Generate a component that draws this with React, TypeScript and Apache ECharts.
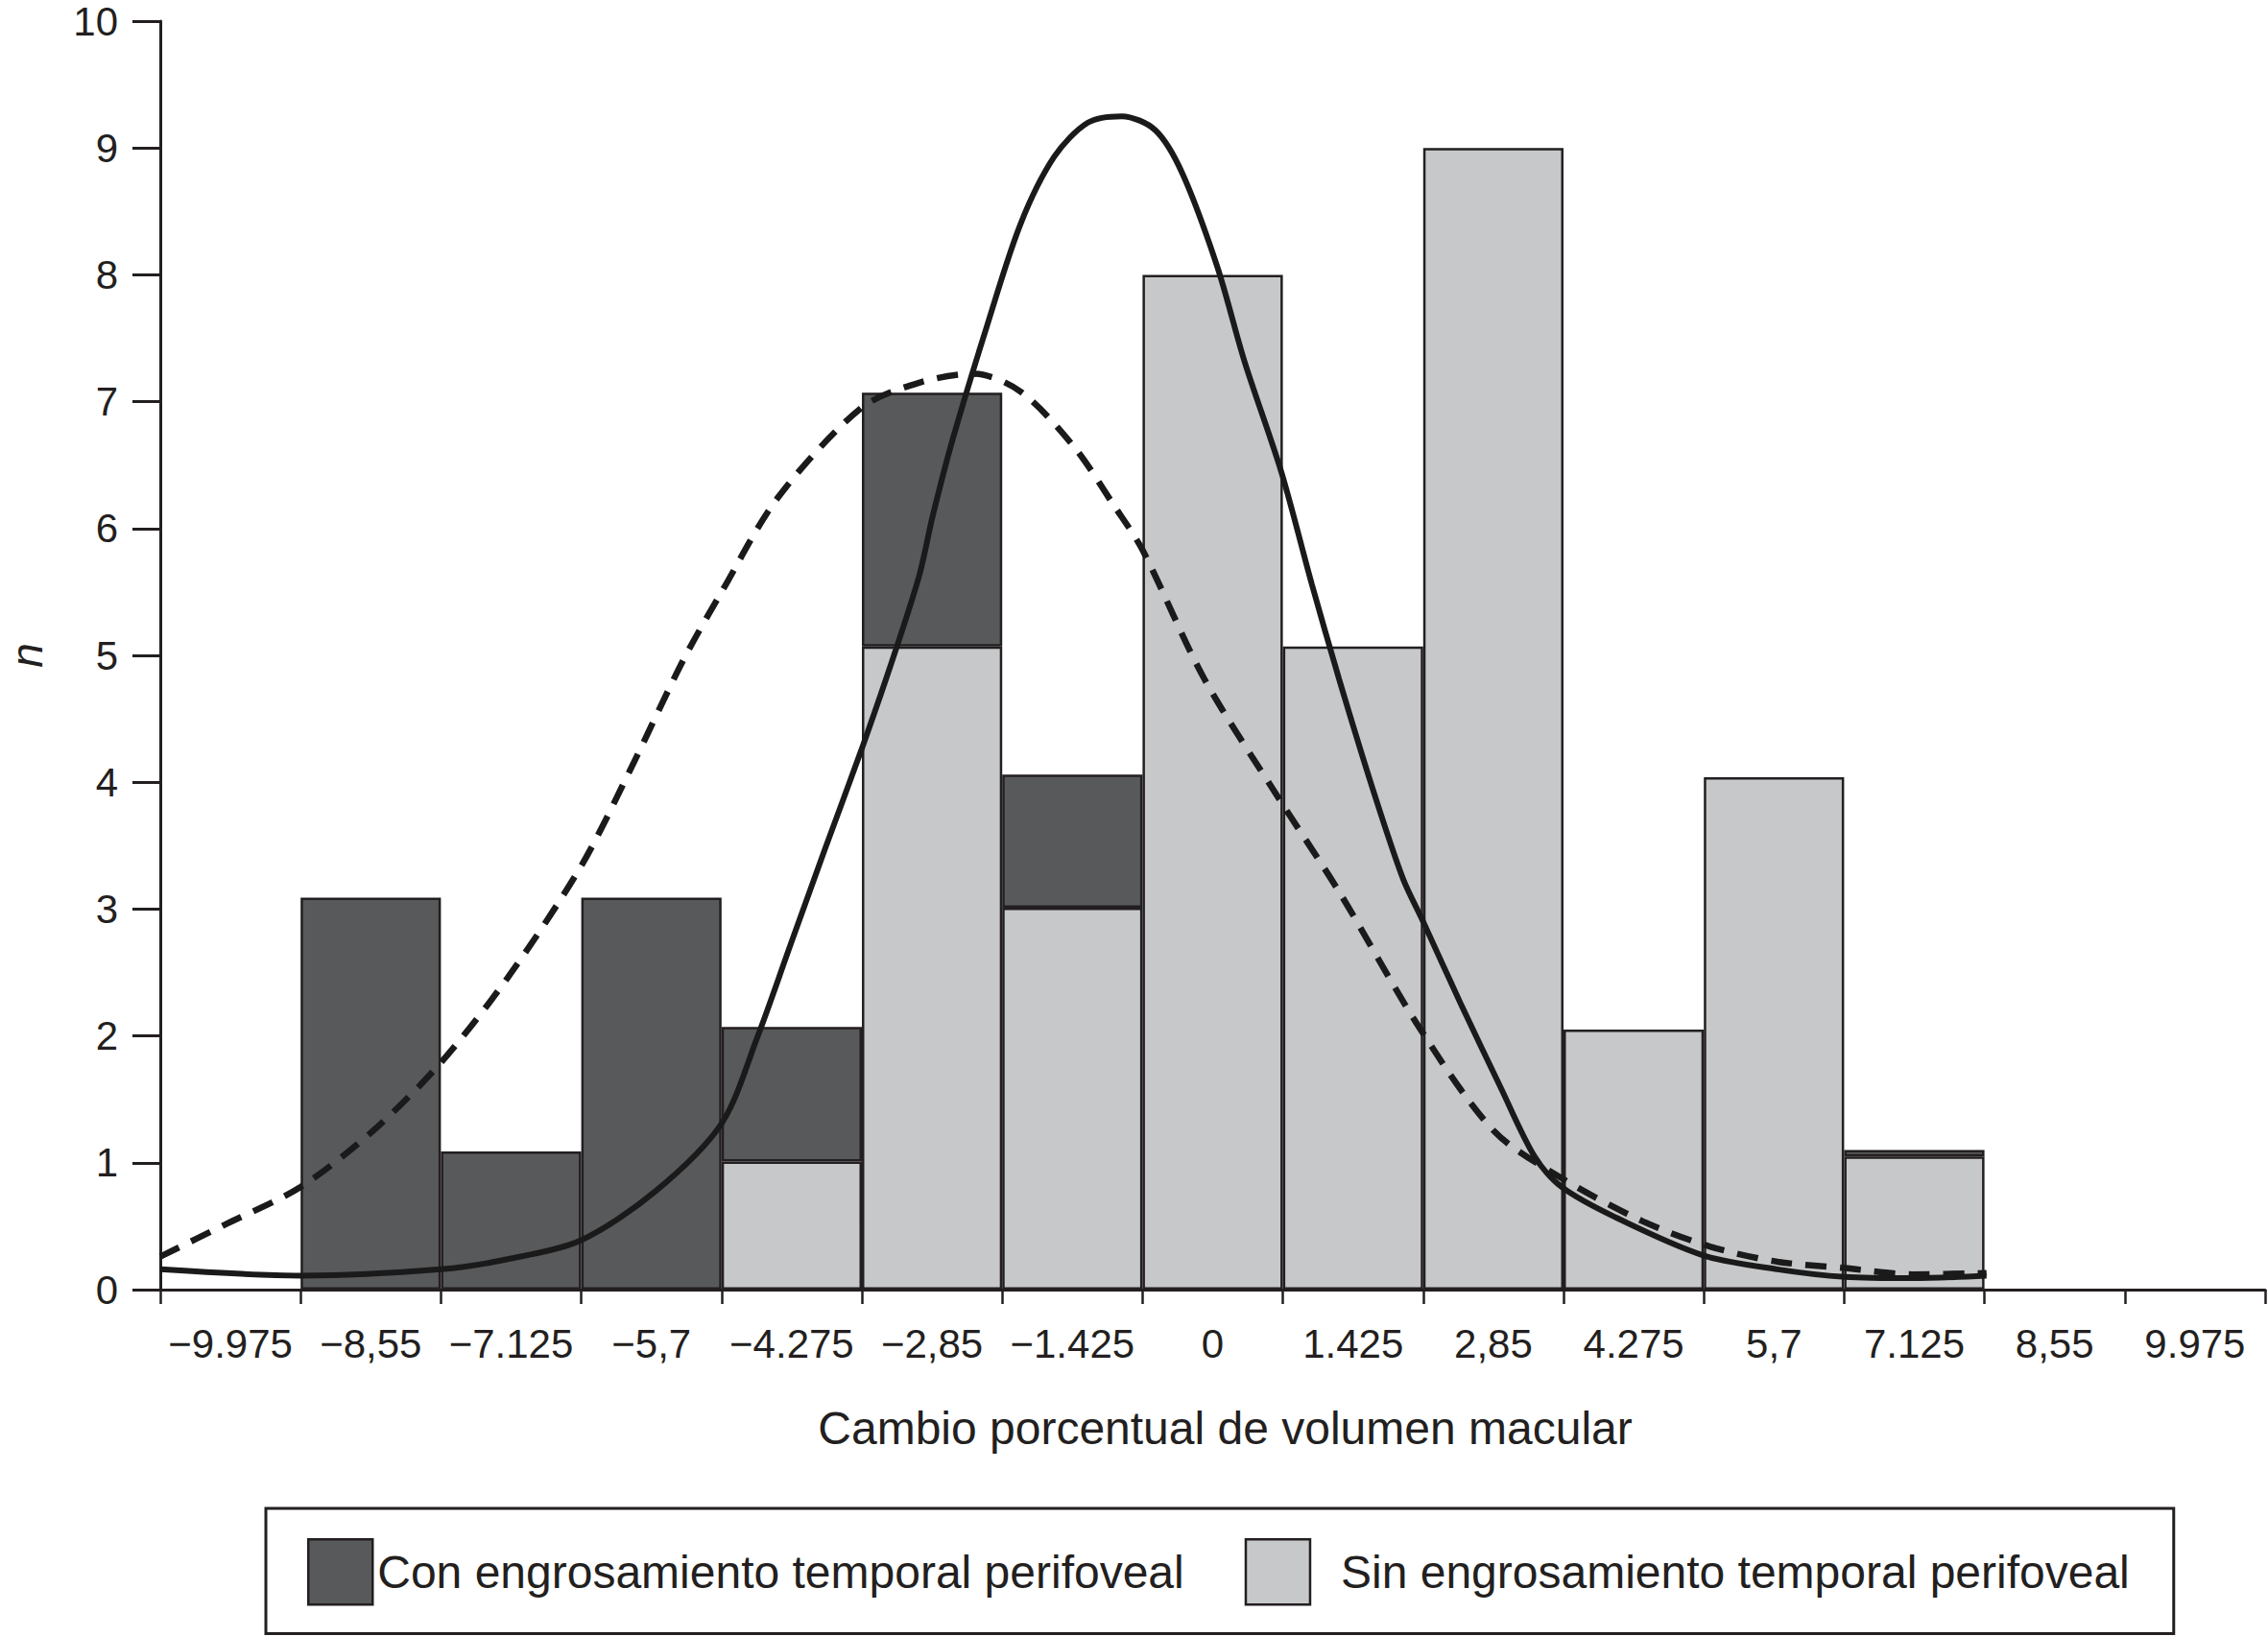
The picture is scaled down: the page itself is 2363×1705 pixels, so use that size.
import { useEffect, useRef } from "react";
import * as echarts from "echarts";

// bin labels (one per histogram class)
const binLabels = [
  "−9.975", "−8,55", "−7.125", "−5,7", "−4.275", "−2,85", "−1.425",
  "0", "1.425", "2,85", "4.275", "5,7", "7.125", "8,55", "9.975",
];

// bar heights (n per class)
const sinCounts = [null, null, null, null, 1.01, 5.07, 3.01, 8.0, 5.07, 9.0, 2.05, 4.04, 1.05, null, null];
const conCounts = [null, 3.09, 1.09, 3.09, 1.06, 2.0, 1.05, null, null, null, null, null, 0.05, null, null];

// fitted curves, points (x in volume change units)
const solidX = [
  -10.688, -9.262, -7.838, -7.159, -6.413, -5.652, -4.987, -4.624, -4.282, -3.939,
  -3.57, -3.254, -2.98, -2.843, -2.638, -2.295, -1.952, -1.61, -1.267, -0.924,
  -0.582, -0.308, 0.048, 0.322, 0.699, 1.007, 1.281, 1.624, 1.932, 2.138,
  2.515, 2.926, 3.268, 3.542, 4.09, 4.981, 5.735, 6.42, 7.105, 7.858,
];
const solidY = [
  0.16, 0.11, 0.16, 0.24, 0.39, 0.78, 1.31, 1.99, 2.73, 3.47,
  4.25, 4.96, 5.63, 6.1, 6.71, 7.59, 8.4, 8.93, 9.2, 9.25,
  9.14, 8.8, 8.06, 7.32, 6.44, 5.56, 4.82, 3.95, 3.24, 2.9,
  2.26, 1.59, 1.05, 0.81, 0.57, 0.27, 0.16, 0.1, 0.09, 0.11,
];
const dashedX = [
  -10.688, -10.037, -9.262, -8.53, -7.838, -7.159, -6.413, -5.926, -5.378, -4.987,
  -4.419, -3.57, -2.98, -2.432, -1.952, -1.404, -0.993, -0.712, -0.089, 0.665,
  1.281, 2.103, 2.857, 3.542, 4.364, 5.049, 5.735, 6.42, 7.105, 7.858,
];
const dashedY = [
  0.26, 0.51, 0.81, 1.25, 1.79, 2.46, 3.34, 4.08, 4.96, 5.5,
  6.24, 6.95, 7.15, 7.22, 7.08, 6.64, 6.17, 5.83, 4.82, 3.88,
  3.14, 2.06, 1.25, 0.88, 0.54, 0.34, 0.22, 0.17, 0.12, 0.13,
];

const FONT = "'Liberation Sans', Arial, Helvetica, sans-serif";
const INK = "#231f20";
const DARK = "#58595b";
const LIGHT = "#c7c8ca";

export default function App() {
  const chartRef = useRef<HTMLDivElement | null>(null);

  useEffect(() => {
    if (!chartRef.current) {
      return;
    }

    const chart = echarts.init(chartRef.current, null, { renderer: "svg" });
    const barBorder = { borderColor: INK, borderWidth: 2.5 };

    chart.setOption({
      animation: false,
      backgroundColor: "#ffffff",
      textStyle: { fontFamily: FONT, color: INK },
      grid: {
        left: 167,
        top: 22,
        width: 2193,
        height: 1322,
        containLabel: false,
        outerBoundsMode: "none",
      },
      legend: {
        left: 277,
        top: 1572,
        orient: "horizontal",
        padding: [31, 46, 29, 43],
        borderColor: INK,
        borderWidth: 3,
        itemWidth: 67,
        itemHeight: 68,
        itemGap: 63,
        icon: "rect",
        textStyle: { fontSize: 48, color: INK, fontFamily: FONT },
        data: [
          { name: "Con engrosamiento temporal perifoveal", itemStyle: barBorder },
          {
            name: "Sin engrosamiento temporal perifoveal",
            itemStyle: barBorder,
            textStyle: { padding: [0, 0, 0, 27] },
          },
        ],
      },
      xAxis: [
        {
          type: "category",
          data: binLabels,
          boundaryGap: true,
          name: "Cambio porcentual de volumen macular",
          nameLocation: "middle",
          nameGap: 120,
          nameTextStyle: { fontSize: 48, color: INK, padding: [0, 0, 0, 26] },
          axisLine: { lineStyle: { color: INK, width: 3 } },
          axisTick: { show: true, length: 15, lineStyle: { color: INK, width: 2.5 } },
          axisLabel: { fontSize: 42, color: INK, margin: 35, interval: 0 },
          splitLine: { show: false },
        },
        {
          type: "value",
          min: -10.6875,
          max: 10.6875,
          show: false,
        },
      ],
      yAxis: {
        type: "value",
        min: 0,
        max: 10,
        interval: 1,
        name: "n",
        nameLocation: "middle",
        nameRotate: 90,
        nameGap: 116,
        nameTextStyle: { fontSize: 46, fontStyle: "italic", color: INK },
        axisLine: { show: true, onZero: false, lineStyle: { color: INK, width: 3 } },
        axisTick: { show: true, length: 29, lineStyle: { color: INK, width: 3 } },
        axisLabel: { fontSize: 42, color: INK, margin: 44 },
        splitLine: { show: false },
      },
      series: [
        {
          name: "Sin engrosamiento temporal perifoveal",
          type: "bar",
          stack: "n",
          xAxisIndex: 0,
          barCategoryGap: "0%",
          itemStyle: { color: LIGHT, ...barBorder },
          data: sinCounts,
        },
        {
          name: "Con engrosamiento temporal perifoveal",
          type: "bar",
          stack: "n",
          xAxisIndex: 0,
          barCategoryGap: "0%",
          itemStyle: { color: DARK, ...barBorder },
          data: conCounts,
        },
        {
          name: "curva sin",
          type: "line",
          xAxisIndex: 1,
          smooth: 0.3,
          showSymbol: false,
          lineStyle: { color: "#1a1a1a", width: 6 },
          data: solidX.map((x, i) => [x, solidY[i]]),
        },
        {
          name: "curva con",
          type: "line",
          xAxisIndex: 1,
          smooth: 0.3,
          showSymbol: false,
          lineStyle: { color: "#1a1a1a", width: 6.5, type: [22, 14] },
          data: dashedX.map((x, i) => [x, dashedY[i]]),
        },
      ],
    });

    return () => {
      chart.dispose();
    };
  }, []);

  return (
    <div
      ref={chartRef}
      style={{ position: "absolute", left: 0, top: 0, width: 2363, height: 1705 }}
    />
  );
}
